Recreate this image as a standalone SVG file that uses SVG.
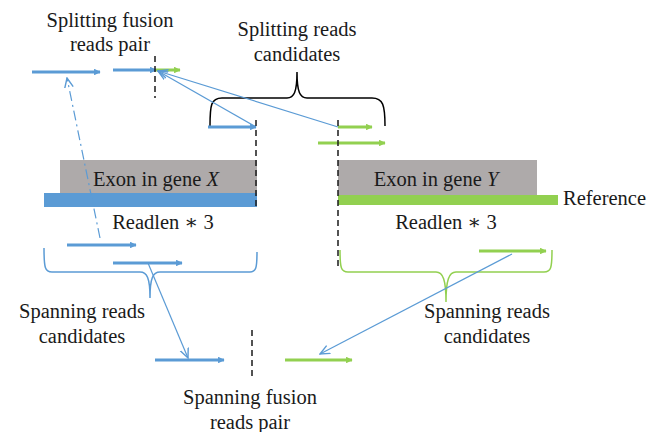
<svg xmlns="http://www.w3.org/2000/svg" width="659" height="432" viewBox="0 0 659 432">
<style>
text{font-family:"Liberation Serif","DejaVu Serif",serif;font-size:20.5px;fill:#1a1a1a;text-anchor:middle}
.rb{stroke:#5b9bd5;stroke-width:3;fill:none}
.rg{stroke:#92d050;stroke-width:3;fill:none}
.ln{stroke:#5b9bd5;stroke-width:1.2;fill:none}
.dash{stroke:#1a1a1a;stroke-width:1.5;stroke-dasharray:6,4;fill:none}
.brk{stroke:#000;stroke-width:1.5;fill:none}
.bb{stroke:#5b9bd5;stroke-width:1.5;fill:none}
.bg{stroke:#92d050;stroke-width:1.5;fill:none}
</style>
<defs>
<marker id="ab" viewBox="0 0 10 10" refX="9" refY="5" markerWidth="2.2" markerHeight="2.2" orient="auto"><path d="M0,0 L10,5 L0,10 z" fill="#5b9bd5"/></marker>
<marker id="ag" viewBox="0 0 10 10" refX="9" refY="5" markerWidth="2.2" markerHeight="2.2" orient="auto"><path d="M0,0 L10,5 L0,10 z" fill="#92d050"/></marker>
<marker id="ao" viewBox="0 0 10 10" refX="9" refY="5" markerWidth="9" markerHeight="9" orient="auto"><path d="M0,1 L9,5 L0,9" fill="none" stroke="#5b9bd5" stroke-width="1.3"/></marker>
</defs>
<g id="exon-x">
<rect x="60" y="160" width="197" height="33" fill="#aeaaaa"/>
<rect x="44" y="193" width="213" height="14" fill="#5b9bd5"/>
<text x="156" y="186">Exon in gene <tspan font-style="italic">X</tspan></text>
<text x="163" y="229">Readlen ∗ 3</text>
</g>
<g id="exon-y">
<rect x="338" y="160" width="199" height="35" fill="#aeaaaa"/>
<rect x="338" y="195" width="220" height="10" fill="#92d050"/>
<text x="436" y="186">Exon in gene <tspan font-style="italic">Y</tspan></text>
<text x="563" y="205" style="text-anchor:start">Reference</text>
<text x="446" y="229">Readlen ∗ 3</text>
</g>
<g id="splitting-pair">
<text x="110" y="27">Splitting fusion</text>
<text x="110" y="51">reads pair</text>
<line class="rb" x1="32" y1="72" x2="100" y2="72" marker-end="url(#ab)"/>
<line class="rb" x1="113" y1="70" x2="156" y2="70" marker-end="url(#ab)"/>
<line class="rg" x1="156" y1="70" x2="180" y2="70" marker-end="url(#ag)"/>
<line class="dash" x1="155" y1="56" x2="155" y2="98"/>
</g>
<g id="splitting-candidates">
<text x="297" y="36">Splitting reads</text>
<text x="297" y="61">candidates</text>
<path class="brk" d="M210,126 C210,105 211,98 222,98 L287,98 C294,98 297,92 297,72 C297,92 300,98 307,98 L372,98 C383,98 385,105 385,126"/>
<line class="rb" x1="208" y1="127" x2="256" y2="127" marker-end="url(#ab)"/>
<line class="dash" x1="256" y1="120" x2="256" y2="210"/>
<line class="rg" x1="338" y1="127" x2="372" y2="127" marker-end="url(#ag)"/>
<line class="rg" x1="318" y1="143" x2="385" y2="143" marker-end="url(#ag)"/>
<line class="dash" x1="338" y1="120" x2="338" y2="270"/>
</g>
<g id="spanning-left">
<line class="rb" x1="67" y1="245" x2="136" y2="245" marker-end="url(#ab)"/>
<line class="rb" x1="113" y1="263" x2="182" y2="263" marker-end="url(#ab)"/>
<path class="bb" d="M44,248 C44,268 45,272 52,272 L140,272 C147,272 150,278 150,298 C150,278 153,272 160,272 L250,272 C256,272 257,268 257,252"/>
<text x="82" y="318">Spanning reads</text>
<text x="82" y="343">candidates</text>
</g>
<g id="spanning-right">
<line class="rg" x1="479" y1="251" x2="546" y2="251" marker-end="url(#ag)"/>
<path class="bg" d="M340,250 C340,268 341,272 348,272 L436,272 C443,272 446,280 446,302 C446,280 449,272 456,272 L544,272 C551,272 552,268 552,250"/>
<text x="487" y="318">Spanning reads</text>
<text x="487" y="343">candidates</text>
</g>
<g id="spanning-pair">
<line class="rb" x1="155" y1="360" x2="224" y2="360" marker-end="url(#ab)"/>
<line class="dash" x1="252" y1="330" x2="252" y2="377"/>
<line class="rg" x1="285" y1="360" x2="352" y2="360" marker-end="url(#ag)"/>
<text x="250" y="404">Spanning fusion</text>
<text x="250" y="429">reads pair</text>
</g>
<g id="connectors">
<line class="ln" x1="256" y1="127" x2="158" y2="71" marker-end="url(#ao)"/>
<line class="ln" x1="338" y1="127" x2="158" y2="71" marker-end="url(#ao)"/>
<line class="ln" x1="100" y1="238" x2="67" y2="78" stroke-dasharray="10,4,2,4" marker-end="url(#ao)"/>
<line class="ln" x1="148" y1="263" x2="188" y2="358" marker-end="url(#ao)"/>
<line class="ln" x1="512" y1="254" x2="320" y2="354" marker-end="url(#ao)"/>
</g>
</svg>
